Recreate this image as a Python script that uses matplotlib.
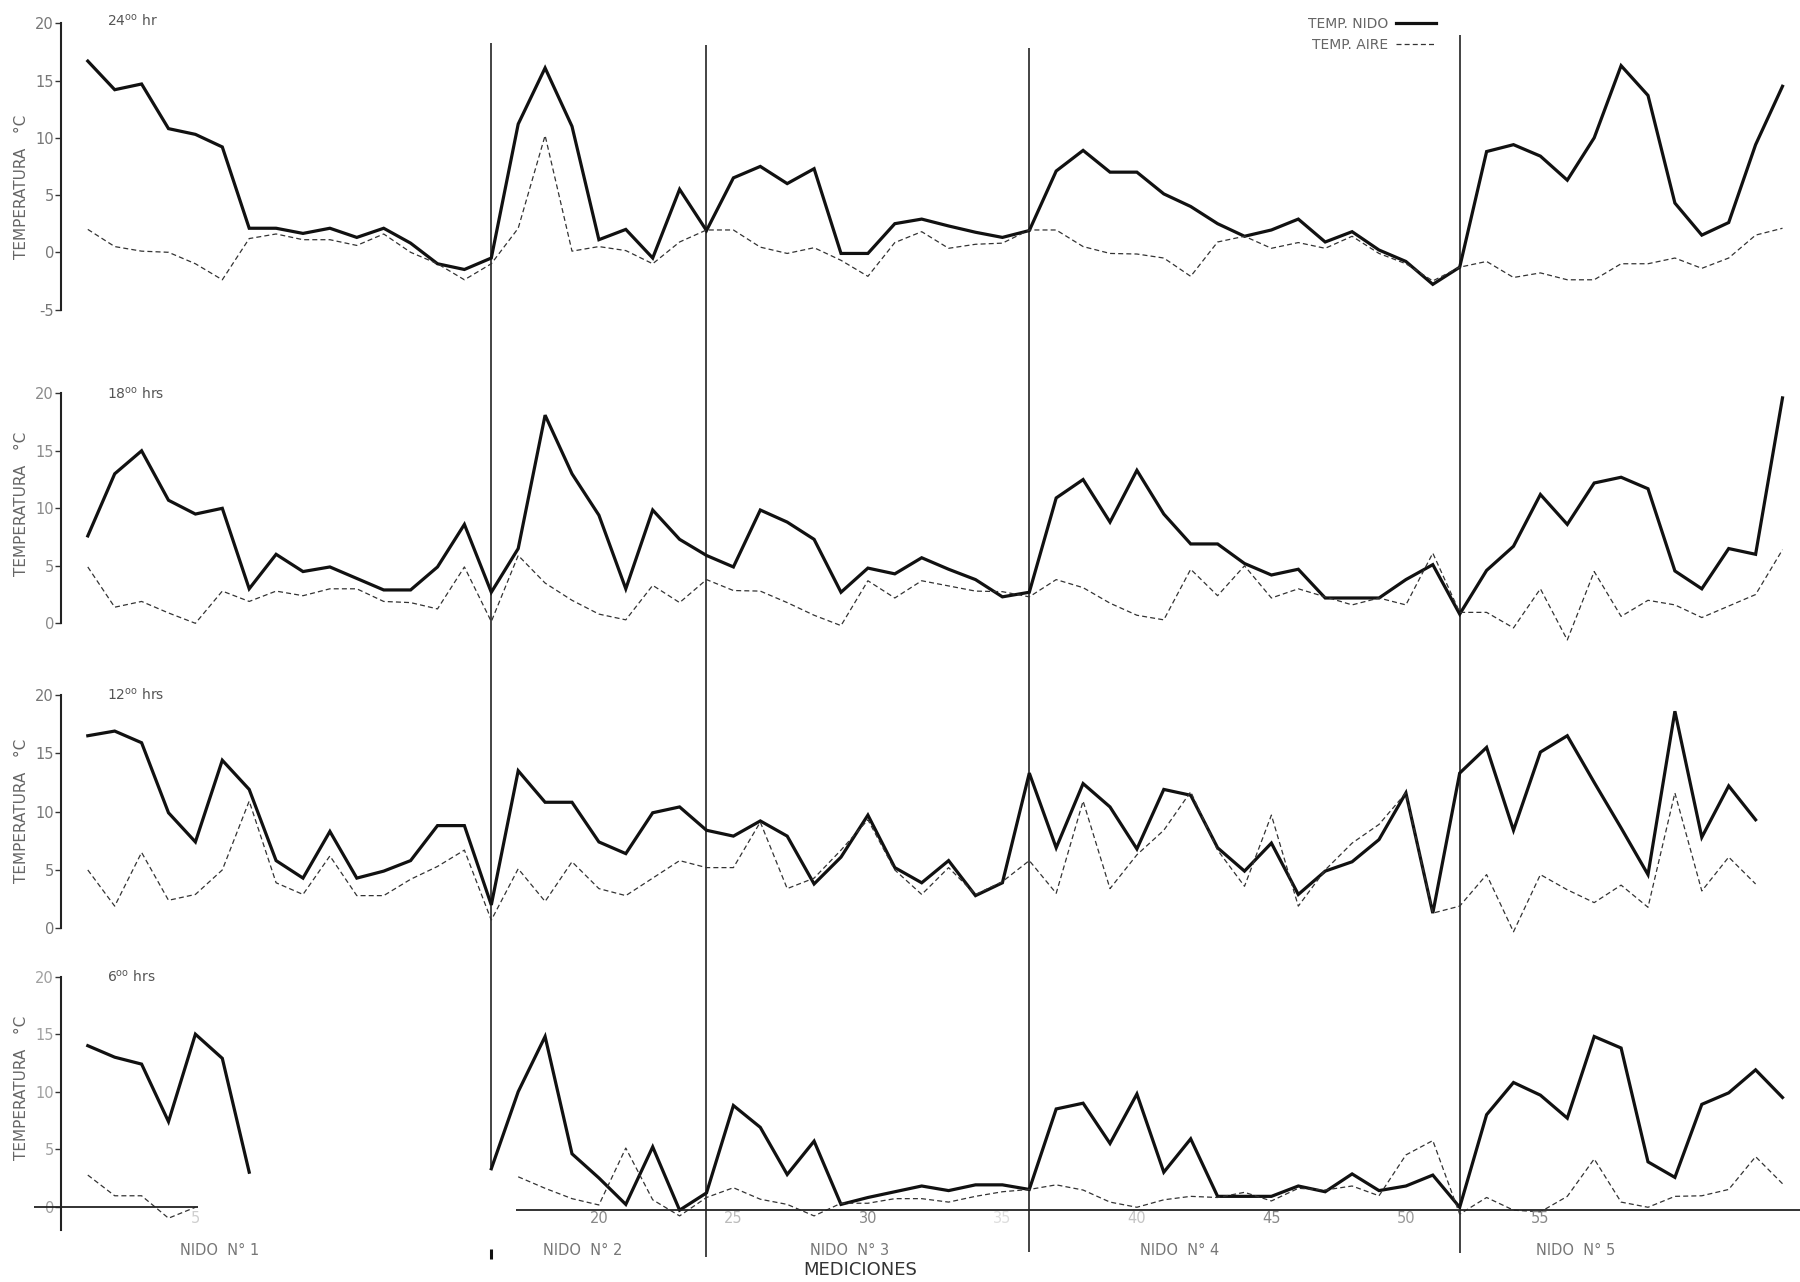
import numpy as np
import matplotlib
matplotlib.use("Agg")
import matplotlib.pyplot as plt

plt.rcParams["axes.unicode_minus"] = False

W, H = 1800, 1282          # output size in px
X1, STEP = 87.8, 26.9      # px of measurement 1 and px between measurements
nan = np.nan

meds = np.arange(1, 65)

nido_24 = [16.7, 14.2, 14.7, 10.8, 10.3, 9.2, 2.1, 2.1, 1.65, 2.1, 1.3, 2.1, 0.8, -1.0, -1.5, -0.5,
           11.2, 16.1, 11.0, 1.1, 2.0, -0.5, 5.5, 1.9,
           6.5, 7.5, 6.0, 7.3, -0.1, -0.1, 2.5, 2.9, 2.3, 1.75, 1.3, 1.9,
           7.1, 8.9, 7.0, 7.0, 5.1, 4.0, 2.5, 1.4, 1.95, 2.9, 0.9, 1.8, 0.2, -0.8, -2.8, -1.3,
           8.8, 9.4, 8.4, 6.3, 10.0, 16.3, 13.7, 4.3, 1.5, 2.6, 9.4, 14.5]
aire_24 = [2.0, 0.5, 0.1, 0.0, -1.0, -2.4, 1.2, 1.6, 1.1, 1.1, 0.6, 1.6, 0.0, -1.0, -2.4, -1.0,
           2.1, 10.2, 0.1, 0.5, 0.15, -1.0, 0.9, 1.95,
           1.95, 0.45, -0.1, 0.4, -0.7, -2.1, 0.85, 1.8, 0.35, 0.7, 0.8, 1.95,
           1.95, 0.5, -0.1, -0.15, -0.5, -2.1, 0.9, 1.4, 0.35, 0.85, 0.35, 1.4, -0.1, -1.0, -2.5, -1.3,
           -0.8, -2.2, -1.8, -2.4, -2.4, -1.0, -1.0, -0.5, -1.4, -0.5, 1.5, 2.1]

nido_18 = [7.6, 13.0, 15.0, 10.7, 9.5, 10.0, 3.0, 6.0, 4.5, 4.9, 3.9, 2.9, 2.9, 4.9, 8.6, 2.7,
           6.5, 18.1, 13.0, 9.4, 3.0, 9.85, 7.3, 5.9,
           4.9, 9.85, 8.8, 7.3, 2.7, 4.8, 4.3, 5.7, 4.7, 3.8, 2.3, 2.7,
           10.9, 12.5, 8.8, 13.3, 9.5, 6.9, 6.9, 5.2, 4.2, 4.7, 2.2, 2.2, 2.2, 3.8, 5.1, 0.8,
           4.6, 6.7, 11.2, 8.6, 12.2, 12.7, 11.7, 4.55, 3.0, 6.5, 6.0, 19.6]
aire_18 = [4.9, 1.4, 1.9, 0.9, 0.0, 2.8, 1.9, 2.8, 2.4, 3.0, 3.0, 1.9, 1.8, 1.25, 4.9, 0.15,
           5.9, 3.5, 2.0, 0.8, 0.3, 3.3, 1.8, 3.8,
           2.85, 2.8, 1.8, 0.7, -0.2, 3.7, 2.2, 3.7, 3.25, 2.8, 2.75, 2.3,
           3.8, 3.1, 1.75, 0.7, 0.3, 4.7, 2.4, 5.0, 2.2, 3.0, 2.3, 1.6, 2.2, 1.6, 6.1, 0.95,
           0.95, -0.4, 3.0, -1.45, 4.5, 0.6, 2.0, 1.6, 0.5, 1.5, 2.5, 6.4]

nido_12 = [16.5, 16.9, 15.9, 9.9, 7.4, 14.4, 11.9, 5.8, 4.3, 8.3, 4.3, 4.9, 5.8, 8.8, 8.8, 2.0,
           13.5, 10.8, 10.8, 7.4, 6.4, 9.9, 10.4, 8.4,
           7.9, 9.2, 7.9, 3.8, 6.1, 9.7, 5.2, 3.9, 5.8, 2.8, 3.9, 13.3,
           6.9, 12.4, 10.4, 6.8, 11.9, 11.4, 6.9, 4.9, 7.3, 2.9, 4.9, 5.7, 7.6, 11.6, 1.3, 13.3,
           15.5, 8.4, 15.1, 16.5, 12.5, 8.6, 4.6, 18.6, 7.8, 12.2, 9.3, nan]
aire_12 = [5.0, 1.9, 6.5, 2.4, 2.9, 5.0, 10.9, 3.9, 2.9, 6.2, 2.8, 2.8, 4.2, 5.3, 6.7, 0.7,
           5.1, 2.3, 5.7, 3.4, 2.8, 4.3, 5.8, 5.2,
           5.2, 9.1, 3.4, 4.3, 6.7, 9.3, 5.0, 2.9, 5.2, 2.9, 4.0, 5.8,
           3.0, 10.9, 3.4, 6.3, 8.4, 11.7, 6.7, 3.6, 9.7, 1.9, 5.0, 7.3, 8.9, 11.6, 1.3, 1.9,
           4.6, -0.3, 4.6, 3.3, 2.2, 3.7, 1.8, 11.6, 3.2, 6.1, 3.8, nan]

nido_6 = [14.0, 13.0, 12.4, 7.4, 15.0, 12.9, 3.0, nan, nan, nan, nan, nan, nan, nan, nan, 3.3,
          10.0, 14.8, 4.6, 2.5, 0.2, 5.2, -0.3, 1.2,
          8.8, 6.9, 2.8, 5.7, 0.2, 0.8, 1.3, 1.8, 1.4, 1.9, 1.9, 1.5,
          8.5, 9.0, 5.5, 9.8, 3.0, 5.9, 0.9, 0.9, 0.9, 1.8, 1.3, 2.85, 1.4, 1.8, 2.75, -0.05,
          8.0, 10.8, 9.7, 7.7, 14.8, 13.8, 3.9, 2.55, 8.9, 9.9, 11.9, 9.5]
aire_6 = [2.75, 0.95, 0.95, -1.0, -0.05, nan, nan, nan, nan, nan, nan, nan, nan, nan, nan, nan,
          2.6, 1.6, 0.7, 0.15, 5.1, 0.6, -0.8, 0.8,
          1.65, 0.65, 0.2, -0.8, 0.3, 0.3, 0.7, 0.7, 0.4, 0.9, 1.3, 1.5,
          1.9, 1.45, 0.4, -0.05, 0.6, 0.9, 0.8, 1.25, 0.5, 1.6, 1.45, 1.8, 0.95, 4.5, 5.75, -0.65,
          0.8, -0.3, -0.45, 0.9, 4.15, 0.4, -0.05, 0.9, 0.95, 1.5, 4.35, 2.0]

horas = [r"24$^{\mathrm{oo}}$ hr", r"18$^{\mathrm{oo}}$ hrs", r"12$^{\mathrm{oo}}$ hrs", r"6$^{\mathrm{oo}}$ hrs"]
nido_series = [nido_24, nido_18, nido_12, nido_6]
aire_series = [aire_24, aire_18, aire_12, aire_6]

nest_breaks = [16, 24, 36, 52]
nest_names = ["NIDO  N° 1", "NIDO  N° 2", "NIDO  N° 3", "NIDO  N° 4", "NIDO  N° 5"]
nest_label_pos = [5.9, 19.4, 29.3, 41.6, 56.3]
x_tick_vals = [5, 20, 25, 30, 35, 40, 45, 50, 55]
x_tick_cols = ["#cfcfcf", "#888888", "#bbbbbb", "#888888", "#dddddd", "#c4c4c4",
               "#888888", "#999999", "#888888"]

# layout of each strip: pixel row of 0 °C, px per °C, y-limits, spine span, ylabel centre
panels = [
    dict(zero=252.3, scale=11.45, ylim=(-6.0, 21.5), span=(-5, 20), lab=5.7,
         ticks=[-5, 0, 5, 10, 15, 20], tcol="#777777"),
    dict(zero=623.3, scale=11.5, ylim=(-2.0, 21.5), span=(0, 20), lab=10.4,
         ticks=[0, 5, 10, 15, 20], tcol="#8a8a8a"),
    dict(zero=928.3, scale=11.67, ylim=(-1.0, 21.5), span=(0, 20), lab=10.1,
         ticks=[0, 5, 10, 15, 20], tcol="#777777"),
    dict(zero=1206.7, scale=11.5, ylim=(-3.0, 21.5), span=(-2, 20), lab=10.3,
         ticks=[0, 5, 10, 15, 20], tcol="#a0a0a0"),
]

xlim = (1 - X1 / STEP, 1 + (W - X1) / STEP)
TXT = "#666666"

fig = plt.figure(figsize=(W / 100, H / 100), dpi=100)
fig.patch.set_facecolor("white")

# overlay for the long nest separators that cut through all four strips
ov = fig.add_axes([0, 0, 1, 1], zorder=0)
ov.set_xlim(*xlim); ov.set_ylim(H, 0); ov.axis("off")
ov.vlines(nest_breaks, [43, 45, 47.7, 35], [1167, 1257, 1252, 1253], color="#111111", lw=1.1)
ov.vlines(nest_breaks[0], 1249, 1259, color="#111111", lw=2.2)

axes = []
for k, p in enumerate(panels):
    y_top = p["zero"] - p["ylim"][1] * p["scale"]
    hgt = (p["ylim"][1] - p["ylim"][0]) * p["scale"]
    ax = fig.add_axes([0, 1 - (y_top + hgt) / H, 1, hgt / H], zorder=1)
    ax.patch.set_alpha(0)
    ax.set_xlim(*xlim); ax.set_ylim(*p["ylim"])
    for s in ("top", "right", "bottom"):
        ax.spines[s].set_visible(False)
    ax.spines["left"].set_position(("data", 0))
    ax.spines["left"].set_bounds(*p["span"])
    ax.spines["left"].set_linewidth(1.5)
    ax.spines["left"].set_color("#222222")
    ax.set_xticks([])
    ax.set_yticks(p["ticks"])
    ax.tick_params(axis="y", direction="out", length=4, width=1, color="#333333",
                   labelsize=10.5, labelcolor=p["tcol"], pad=1)

    ln_n, = ax.plot(meds, nido_series[k], color="#111111", lw=2.3, solid_joinstyle="miter",
                    label="TEMP. NIDO")
    ln_a, = ax.plot(meds, aire_series[k], color="#333333", lw=0.9, dashes=(4, 2.5),
                    label="TEMP. AIRE")

    ax.text(1.7, 20.2 if k == 0 else 20.0, horas[k], ha="left", va="center",
            fontsize=10, color="#555555")
    ax.text(-1.45, p["lab"], "TEMPERATURA   °C", rotation=90, ha="center", va="center",
            fontsize=11, color=TXT)
    axes.append(ax)
    if k == 0:
        handles = [ln_n, ln_a]

# bottom strip: measurement axis and nest names
ax4 = axes[-1]
ax4.hlines(0, -1.0, 5.1, color="#222222", lw=1.3)
ax4.hlines(-0.3, 16.9, xlim[1], color="#222222", lw=1.3)
for v, c in zip(x_tick_vals, x_tick_cols):
    ax4.text(v, -1.0, str(v), ha="center", va="center", fontsize=10.5, color=c)
for v, name in zip(nest_label_pos, nest_names):
    ax4.text(v, -3.8, name, ha="center", va="center", fontsize=10.5, color="#777777")
ax4.text(29.7, -5.5, "MEDICIONES", ha="center", va="center", fontsize=13, color="#333333")

axes[0].legend(handles, ["TEMP. NIDO", "TEMP. AIRE"], markerfirst=False, frameon=False,
               loc="upper left", bbox_to_anchor=(1295 / W, 1 - 4 / H),
               bbox_transform=fig.transFigure, fontsize=10, labelcolor="#666666",
               handlelength=2.9, handletextpad=0.6, labelspacing=0.55)

fig.savefig("out.png", dpi=100, facecolor="white")
plt.close(fig)
